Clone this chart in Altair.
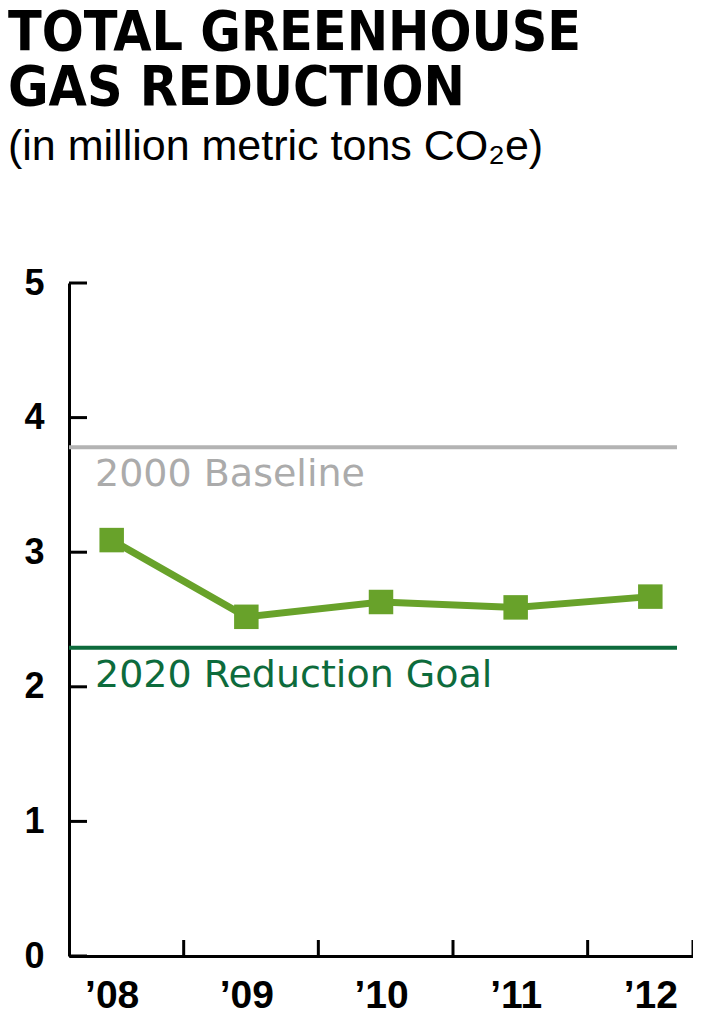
import altair as alt
import pandas as pd

# ---- data ----
years = ["’08", "’09", "’10", "’11", "’12"]
reduction = [3.09, 2.52, 2.63, 2.59, 2.67]
y_tick_values = [0, 1, 2, 3, 4, 5]
ref_values = [3.78, 2.29]
ref_labels = ["2000 Baseline", "2020 Reduction Goal"]
ref_line_colors = ["#b3b3b3", "#0d6b3c"]
ref_text_colors = ["#ababab", "#0d6b3c"]

GREEN = "#68a22a"
W, H = 624, 673

df = pd.DataFrame({"year": years, "value": reduction})
ref = pd.DataFrame({"value": ref_values, "label": ref_labels,
                    "lc": ref_line_colors, "tc": ref_text_colors})
yt = pd.DataFrame({"v": y_tick_values})
xt = pd.DataFrame({"year": years[:-1]})
one = pd.DataFrame({"k": [0]})

y_scale = alt.Scale(domain=[0, 5], nice=False, zero=True)
x_scale = alt.Scale(type="point", padding=0.317)

x_axis = alt.Axis(title=None, labelAngle=0, ticks=False, tickSize=0, grid=False,
                  domainColor="black", domainWidth=3,
                  labelFont="Liberation Sans", labelFontSize=39, labelFontWeight="bold",
                  labelColor="black", labelPadding=20)
y_axis = alt.Axis(title=None, values=y_tick_values, ticks=False, tickSize=0, grid=False,
                  domainColor="black", domainWidth=3, format="d",
                  labelFont="Liberation Sans", labelFontSize=36, labelFontWeight="bold",
                  labelColor="black", labelPadding=25)

X = alt.X("year:O", sort=years, scale=x_scale, axis=x_axis)

ref_rules = alt.Chart(ref).mark_rule(strokeWidth=4).encode(
    y=alt.Y("value:Q", scale=y_scale, axis=y_axis),
    x=alt.value(0), x2=alt.value(608),
    color=alt.Color("lc:N", scale=None),
)
ref_text = alt.Chart(ref).mark_text(
    align="left", baseline="alphabetic", dy=39, font="DejaVu Sans", fontSize=38
).encode(
    y=alt.Y("value:Q", scale=y_scale),
    x=alt.value(26),
    text="label:N",
    color=alt.Color("tc:N", scale=None),
)
line = alt.Chart(df).mark_line(color=GREEN, strokeWidth=7).encode(
    x=X, y=alt.Y("value:Q", scale=y_scale)
)
points = alt.Chart(df).mark_square(size=600, opacity=1, color=GREEN).encode(
    x=X, y=alt.Y("value:Q", scale=y_scale)
)
y_ticks = alt.Chart(yt).mark_rule(strokeWidth=3, color="black").encode(
    y=alt.Y("v:Q", scale=y_scale), x=alt.value(0), x2=alt.value(18)
)
x_ticks = alt.Chart(xt).mark_rule(strokeWidth=3, color="black", xOffset=72).encode(
    x=alt.X("year:O", sort=years, scale=x_scale), y=alt.value(H - 16), y2=alt.value(H)
)
end_tick = alt.Chart(one).mark_rule(strokeWidth=3, color="black").encode(
    x=alt.value("width"), y=alt.value(H - 16), y2=alt.value(H)
)

chart = alt.layer(ref_rules, ref_text, line, points, y_ticks, x_ticks, end_tick).properties(
    width=W, height=H,
    background="white",
    autosize=alt.AutoSizeParams(type="none"),
    padding={"left": 61, "top": 275, "right": 0, "bottom": 60},
    title=alt.Title(
        text=["TOTAL GREENHOUSE", "GAS REDUCTION"],
        subtitle="(in million metric tons CO₂e)",
        anchor="start", frame="group", dx=-61, offset=95,
        font="DejaVu Sans Condensed, Liberation Sans Narrow, sans-serif",
        fontSize=55, fontWeight="bold", lineHeight=54.5, color="black",
        subtitleFont="Liberation Sans", subtitleFontSize=43, subtitleColor="black",
        subtitlePadding=9.5,
    ),
).configure_view(stroke="transparent", strokeWidth=0).configure_axis(grid=False)

chart.save("out.html", embed_options={"renderer": "svg", "actions": False})
